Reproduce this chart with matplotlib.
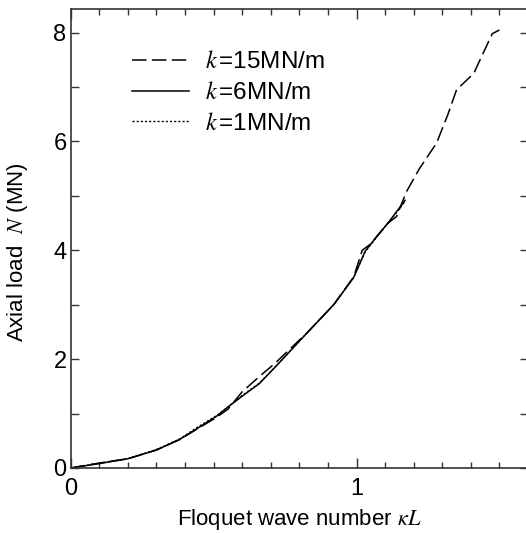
import numpy as np
import matplotlib.pyplot as plt
from matplotlib.ticker import MultipleLocator, FixedLocator

plt.rcParams['font.family'] = ['Liberation Sans', 'DejaVu Sans']
plt.rcParams['mathtext.fontset'] = 'stix'

# k = 15 MN/m
x15 = [0.0, 0.1, 0.2, 0.3, 0.38, 0.45, 0.51, 0.55, 0.6, 0.66, 0.705, 0.72, 0.83,
       0.92, 0.99, 1.02, 1.05, 1.11, 1.14, 1.165, 1.175, 1.22, 1.28, 1.32, 1.35,
       1.39, 1.41, 1.45, 1.475, 1.5]
y15 = [0.0, 0.09, 0.17, 0.33, 0.52, 0.74, 0.93, 1.08, 1.4, 1.68, 1.88, 1.95, 2.5,
       3.0, 3.51, 4.0, 4.12, 4.5, 4.62, 4.95, 5.08, 5.5, 5.97, 6.5, 6.95,
       7.15, 7.25, 7.7, 7.98, 8.05]

# k = 6 MN/m
x6 = [0.0, 0.1, 0.2, 0.3, 0.38, 0.45, 0.51, 0.55, 0.6, 0.66, 0.72, 0.83,
      0.92, 0.99, 1.03, 1.07, 1.11, 1.15, 1.17]
y6 = [0.0, 0.08, 0.17, 0.33, 0.52, 0.75, 0.95, 1.12, 1.32, 1.55, 1.88, 2.5,
      3.0, 3.5, 3.98, 4.25, 4.5, 4.78, 4.92]

# k = 1 MN/m
x1 = [0.0, 0.1, 0.2, 0.3, 0.38, 0.45, 0.51, 0.55, 0.6, 0.66, 0.72, 0.83,
      0.92, 0.99, 1.03, 1.07, 1.11, 1.15, 1.17]
y1 = [0.0, 0.09, 0.17, 0.34, 0.53, 0.77, 0.96, 1.12, 1.33, 1.56, 1.88, 2.5,
      3.0, 3.5, 3.97, 4.24, 4.5, 4.76, 4.9]

fig = plt.figure(figsize=(5.26, 5.33), dpi=100)
ax = fig.add_axes([0.1344, 0.122, 0.8694, 0.8606])

ax.plot(x15, y15, color='black', lw=1.1, dashes=(9.5, 3.5), label=r'$k\,$=15MN/m')
ax.plot(x6, y6, color='black', lw=1.1, label=r'$k\,$=6MN/m')
ax.plot(x1, y1, color='black', lw=1.0, dashes=(1.5, 1.5), label=r'$k\,$=1MN/m')

ax.set_xlim(0, 1.6)
ax.set_ylim(0, 8.43)
ax.xaxis.set_major_locator(FixedLocator([0, 1]))
ax.xaxis.set_minor_locator(MultipleLocator(0.1))
ax.yaxis.set_major_locator(MultipleLocator(2))
ax.yaxis.set_minor_locator(MultipleLocator(1))
ax.tick_params(which='both', direction='in', top=True, right=True,
               color='#333333', width=1.0)
ax.tick_params(which='major', length=7, labelsize=17, pad=3)
ax.tick_params(axis='x', which='major', pad=7)
ax.tick_params(which='minor', length=4.5)
ax.tick_params(axis='y', which='both', length=6)
for s in ax.spines.values():
    s.set_color('#333333')
    s.set_linewidth(1.2)

ax.set_xlabel(r'Floquet wave number $\kappa L$', fontsize=16, labelpad=5)
ax.set_ylabel(r'Axial load  $N$ (MN)', fontsize=16)
ax.yaxis.set_label_coords(-0.088, 0.47)

ax.legend(loc='upper left', bbox_to_anchor=(0.1335, 0.908), frameon=False,
          fontsize=17.5, handlelength=2.35, handletextpad=0.65, labelspacing=0.35,
          borderpad=0, borderaxespad=0)

fig.savefig('out.png', dpi=100)
